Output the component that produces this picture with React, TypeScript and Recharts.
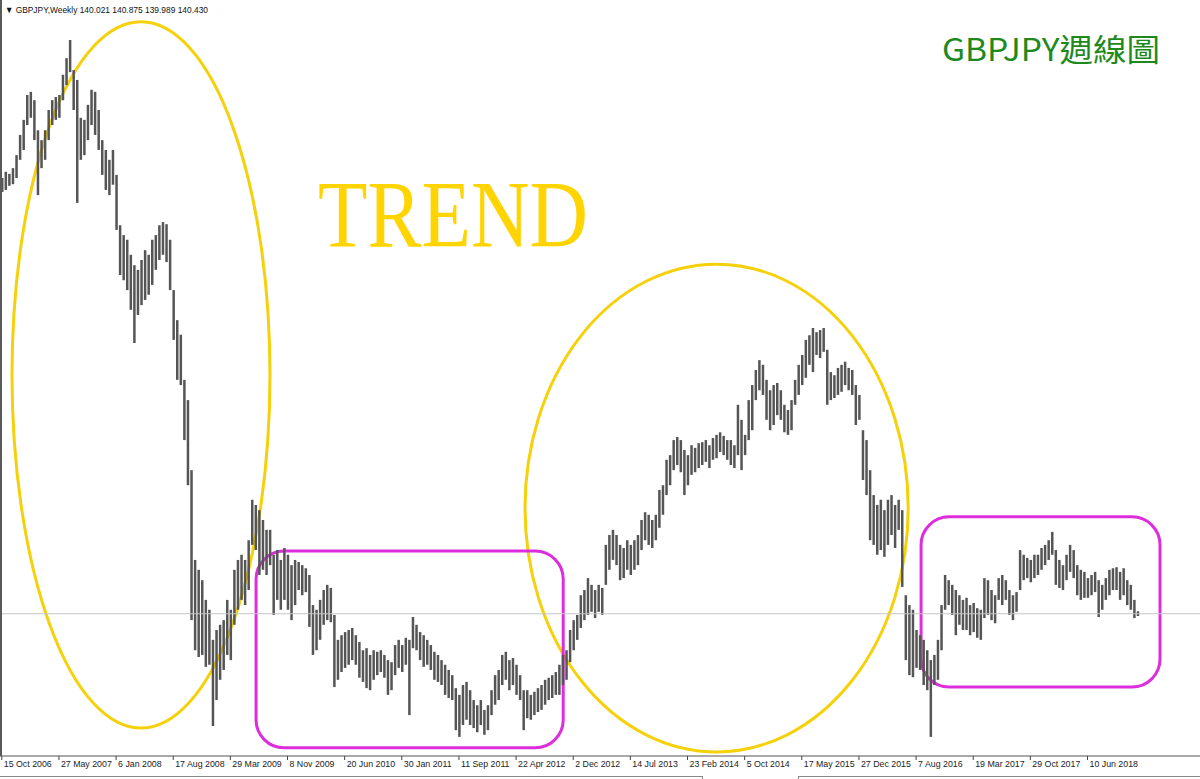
import React from 'react';
import { ComposedChart, Bar, XAxis, YAxis, ReferenceLine, ReferenceArea } from 'recharts';

// GBPJPY weekly, one entry per two weeks starting 15 Oct 2006
const tickLabels = [
    '15 Oct 2006', '27 May 2007', '6 Jan 2008', '17 Aug 2008', '29 Mar 2009',
    '8 Nov 2009', '20 Jun 2010', '30 Jan 2011', '11 Sep 2011', '22 Apr 2012',
    '2 Dec 2012', '14 Jul 2013', '23 Feb 2014', '5 Oct 2014', '17 May 2015',
    '27 Dec 2015', '7 Aug 2016', '19 Mar 2017', '29 Oct 2017', '10 Jun 2018',
];

const highs = [
    224.4, 225.6, 225.2, 226.3, 228.8, 232.7, 235.6, 240.4, 241.0, 239.4,
    233.6, 231.7, 233.6, 237.5, 239.4, 240.0, 240.4, 244.3, 247.5, 251.0,
    245.2, 243.3, 236.0, 235.6, 238.5, 241.4, 241.0, 237.5, 231.7, 229.8,
    227.9, 229.8, 225.0, 215.3, 213.4, 212.5, 209.6, 207.6, 206.7, 208.6,
    210.5, 209.6, 212.5, 213.4, 215.3, 215.9, 215.5, 212.5, 202.8, 197.0,
    194.2, 185.5, 181.6, 168.1, 150.8, 148.9, 146.9, 143.1, 141.2, 135.4,
    137.3, 138.3, 139.2, 143.1, 141.2, 148.9, 150.8, 151.8, 150.8, 154.6,
    162.4, 161.4, 160.4, 158.5, 156.6, 156.6, 151.8, 152.7, 150.8, 153.1,
    151.8, 149.8, 150.8, 150.4, 149.8, 149.2, 147.9, 142.1, 141.2, 143.1,
    145.0, 146.0, 145.4, 140.2, 135.4, 136.3, 136.9, 137.3, 137.7, 136.3,
    135.0, 133.4, 133.8, 132.5, 133.4, 133.1, 133.4, 132.5, 131.5, 131.1,
    134.4, 135.4, 134.4, 135.8, 135.4, 139.8, 138.3, 136.9, 136.3, 135.4,
    134.4, 133.1, 132.5, 131.5, 130.6, 129.6, 128.6, 126.1, 124.8, 126.7,
    127.3, 125.7, 123.8, 122.8, 123.8, 121.9, 122.8, 125.7, 128.6, 129.6,
    132.5, 133.1, 131.5, 131.9, 130.6, 128.6, 125.7, 125.7, 124.8, 125.4,
    126.1, 126.7, 127.7, 128.1, 128.6, 129.2, 130.6, 132.5, 133.4, 137.3,
    139.2, 140.2, 144.0, 145.0, 147.3, 146.0, 145.0, 146.0, 145.4, 153.7,
    155.6, 156.6, 155.6, 153.7, 153.1, 154.6, 153.7, 154.6, 155.6, 158.5,
    160.0, 159.5, 158.5, 159.5, 164.3, 165.2, 170.1, 171.0, 173.9, 174.5,
    173.9, 172.0, 171.0, 172.9, 172.4, 173.3, 173.5, 173.9, 172.9, 174.3,
    174.9, 175.4, 174.7, 173.9, 173.9, 172.9, 180.7, 177.8, 174.9, 181.6,
    184.5, 187.4, 189.3, 188.4, 185.5, 183.5, 184.5, 184.9, 183.5, 180.7,
    179.7, 181.6, 185.5, 188.4, 190.3, 193.2, 194.1, 195.5, 194.7, 195.1,
    195.5, 191.3, 187.0, 186.4, 187.8, 188.4, 189.0, 187.8, 187.4, 184.5,
    182.6, 175.8, 173.9, 168.1, 163.3, 161.4, 162.4, 160.4, 162.4, 163.3,
    161.4, 162.4, 160.4, 144.0, 142.1, 141.2, 137.3, 136.3, 135.4, 133.4,
    131.5, 132.5, 135.4, 142.1, 147.9, 146.9, 146.0, 145.0, 144.0, 143.1,
    143.5, 142.1, 142.5, 141.5, 141.2, 147.3, 146.9, 145.0, 144.0, 147.3,
    147.9, 146.9, 145.0, 144.0, 144.6, 152.7, 151.8, 151.2, 150.8, 151.8,
    151.8, 153.1, 153.7, 154.6, 156.2, 152.7, 150.8, 149.8, 151.8, 153.7,
    152.7, 149.8, 148.9, 148.5, 147.3, 147.9, 148.5, 146.9, 146.0, 147.3,
    148.9, 149.2, 149.4, 148.5, 149.2, 146.9, 146.0, 143.1, 140.9,
];

const lows = [
    221.7, 222.1, 222.9, 223.2, 224.4, 227.9, 229.8, 234.6, 236.0, 231.7,
    221.1, 226.3, 227.9, 231.7, 234.6, 235.6, 236.0, 239.4, 242.3, 244.8,
    237.5, 219.6, 227.9, 228.8, 231.7, 234.6, 232.7, 229.8, 225.0, 222.1,
    221.1, 223.1, 214.4, 205.7, 204.7, 202.8, 199.0, 192.6, 198.0, 199.9,
    200.9, 201.9, 203.8, 206.7, 208.6, 209.6, 208.2, 202.8, 193.2, 185.5,
    184.5, 173.9, 165.2, 139.2, 133.4, 132.1, 132.5, 130.2, 130.6, 118.8,
    123.8, 127.7, 129.6, 132.5, 131.5, 138.3, 141.2, 143.1, 142.1, 145.0,
    153.7, 152.7, 147.9, 148.9, 147.9, 149.8, 140.2, 143.1, 141.2, 143.1,
    141.2, 139.2, 142.1, 145.0, 144.0, 144.6, 137.9, 132.5, 133.4, 135.4,
    138.3, 139.2, 138.8, 126.3, 127.7, 129.2, 130.0, 130.6, 131.5, 130.6,
    128.1, 127.3, 126.1, 125.7, 127.7, 128.6, 129.2, 128.1, 124.8, 125.7,
    128.6, 130.0, 129.2, 130.6, 120.9, 133.8, 133.4, 131.5, 130.2, 130.6,
    129.6, 127.7, 127.3, 126.7, 124.8, 124.2, 123.8, 118.0, 116.7, 119.0,
    120.0, 119.0, 118.4, 117.6, 119.0, 117.1, 118.0, 120.9, 122.9, 123.8,
    126.7, 127.7, 125.7, 126.7, 124.8, 123.8, 118.0, 120.3, 120.0, 120.9,
    121.5, 121.9, 122.9, 123.8, 124.2, 124.8, 124.8, 126.7, 127.7, 131.1,
    133.4, 135.4, 137.7, 139.2, 140.2, 140.8, 139.6, 140.8, 140.2, 146.0,
    148.9, 150.8, 149.8, 146.9, 147.3, 148.9, 147.9, 148.9, 149.8, 152.7,
    154.6, 153.7, 153.1, 154.6, 157.0, 159.5, 163.3, 165.2, 168.1, 169.1,
    167.7, 163.3, 165.2, 167.2, 167.7, 168.5, 169.1, 169.7, 168.5, 170.1,
    170.4, 171.6, 171.0, 170.1, 169.1, 168.5, 171.0, 168.1, 171.0, 173.9,
    175.8, 181.6, 183.5, 182.6, 177.8, 175.8, 176.8, 178.7, 177.8, 175.4,
    174.9, 175.8, 180.7, 182.6, 184.5, 185.9, 188.4, 187.0, 190.3, 189.7,
    190.9, 180.7, 181.6, 182.0, 182.6, 183.2, 184.5, 183.5, 182.6, 176.8,
    177.8, 166.2, 163.3, 154.6, 153.7, 151.8, 152.7, 151.4, 153.7, 155.6,
    153.1, 156.6, 145.6, 131.5, 128.6, 128.2, 130.0, 129.6, 126.7, 125.7,
    116.7, 126.7, 127.7, 133.4, 141.2, 142.1, 140.2, 136.3, 138.3, 137.3,
    137.3, 136.3, 136.9, 135.8, 135.4, 139.6, 140.2, 139.2, 138.6, 143.1,
    142.1, 143.1, 140.2, 139.2, 140.8, 145.0, 146.9, 147.3, 146.5, 147.3,
    147.9, 148.9, 149.8, 150.8, 151.8, 146.0, 145.4, 145.0, 146.9, 148.5,
    147.3, 144.0, 143.1, 143.5, 143.5, 144.0, 144.6, 139.8, 141.2, 143.1,
    144.0, 145.0, 145.0, 143.1, 144.0, 142.1, 141.2, 139.6, 140.0,
];

const lastClose = 140.43;

const data = highs.map((h, i) => ({ week: i, range: [lows[i], h] }));
const tickValues = tickLabels.map((_, k) => k * 16);

const DateTick = (props: any) => {
    const { x, y, payload } = props;
    return (
        <text x={x + 2} y={y + 5} fontSize={8.8} fontFamily="'Liberation Sans', Arial, sans-serif" fill="#222">
            {tickLabels[payload.value / 16]}
        </text>
    );
};

const EllipseShape = (props: any) => {
    const { x, y, width, height } = props;
    return (
        <ellipse
            cx={x + width / 2}
            cy={y + height / 2}
            rx={Math.abs(width) / 2}
            ry={Math.abs(height) / 2}
            fill="none"
            stroke="#F5D10C"
            strokeWidth={3}
        />
    );
};

const BoxShape = (props: any) => {
    const { x, y, width, height } = props;
    return <rect x={x} y={y} width={width} height={height} rx={28} ry={28} fill="none" stroke="#DC2EDC" strokeWidth={3} />;
};

export default function App() {
    return (
        <div style={{ position: 'absolute', left: 0, top: 0, width: 1200, height: 779, background: '#fff' }}>
            <ComposedChart width={1200} height={779} data={data} margin={{ top: 0, right: 0, bottom: 0, left: 0 }}>
                <XAxis
                    type="number"
                    dataKey="week"
                    domain={[-0.5, 335.5]}
                    ticks={tickValues}
                    interval={0}
                    height={23}
                    tickSize={4}
                    axisLine={{ stroke: '#555' }}
                    tickLine={{ stroke: '#444' }}
                    tick={<DateTick />}
                    allowDataOverflow
                />
                <YAxis hide domain={[113.02, 258.7]} allowDataOverflow />
                <ReferenceLine y={lastClose} stroke="#c6c6c6" />
                <Bar dataKey="range" fill="#555" barSize={2.5} isAnimationActive={false} />
                <ReferenceArea x1={2.86} x2={75.1} y1={118.4} y2={254.5} ifOverflow="visible" shape={<EllipseShape />} />
                <ReferenceArea x1={146.5} x2={253.8} y1={113.8} y2={207.8} ifOverflow="visible" shape={<EllipseShape />} />
                <ReferenceArea x1={71.2} x2={157.2} y1={114.6} y2={152.5} ifOverflow="visible" shape={<BoxShape />} />
                <ReferenceArea x1={257.4} x2={324.3} y1={126.3} y2={159.1} ifOverflow="visible" shape={<BoxShape />} />
            </ComposedChart>
            <svg width={1200} height={779} style={{ position: 'absolute', left: 0, top: 0, pointerEvents: 'none' }}>
                <rect x={0} y={0} width={2} height={756} fill="#5a5a5a" />
                <line x1={0} y1={776.5} x2={702} y2={776.5} stroke="#888" />
                <line x1={702.5} y1={776} x2={702.5} y2={779} stroke="#888" />
                <line x1={798.5} y1={776} x2={798.5} y2={779} stroke="#888" />
                <line x1={798} y1={776.5} x2={1200} y2={776.5} stroke="#888" />
                <text x={5} y={13} fontSize={9} fontFamily="'Liberation Sans', Arial, sans-serif" fill="#111" textLength={203} lengthAdjust="spacingAndGlyphs">
                    ▼ GBPJPY,Weekly  140.021 140.875 139.989 140.430
                </text>
                <text x={942} y={61} fontSize={31} fontFamily="'Noto Sans CJK TC', 'Noto Sans', sans-serif" fill="#1e8a1e" textLength={218} lengthAdjust="spacingAndGlyphs">
                    GBPJPY週線圖
                </text>
                <text x={318} y={247} fontSize={96} fontFamily="'Liberation Serif', 'DejaVu Serif', serif" fill="#FFD400" textLength={270} lengthAdjust="spacingAndGlyphs">
                    TREND
                </text>
            </svg>
        </div>
    );
}
